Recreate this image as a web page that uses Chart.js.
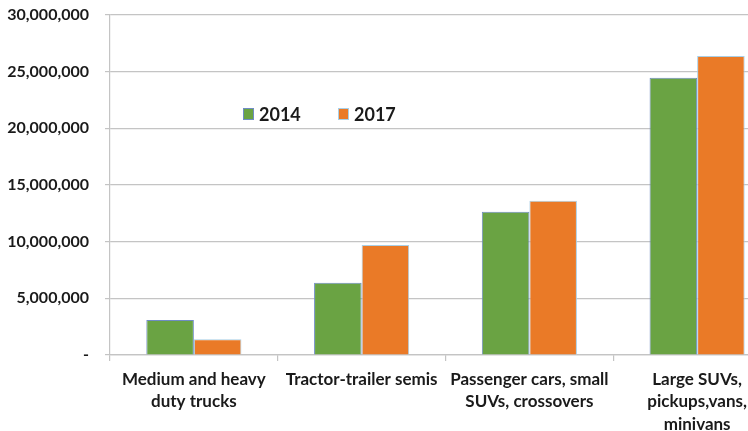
<!DOCTYPE html>
<html>
<head>
<meta charset="utf-8">
<script src="https://cdn.jsdelivr.net/npm/chart.js@4/dist/chart.umd.min.js"></script>
<style>
  html, body { margin: 0; padding: 0; background: #ffffff; overflow: hidden; }
  #wrap { width: 800px; height: 431px; position: relative; }
</style>
</head>
<body>
<div id="wrap"><canvas id="c"></canvas></div>
<script>
// Vehicle stock by class, 2014 vs 2017
const categories = [
  ['Medium and heavy', 'duty trucks'],
  ['Tractor-trailer semis'],
  ['Passenger cars, small', 'SUVs, crossovers'],
  ['Large SUVs,', 'pickups,vans,', 'minivans']
];
const seriesNames = ['2014', '2017'];
const values2014 = [3090000, 6380000, 12650000, 24470000];
const values2017 = [1390000, 9710000, 13600000, 26380000];
const yTicks = [0, 5000000, 10000000, 15000000, 20000000, 25000000, 30000000];

const GREEN = '#6aa343';
const ORANGE = '#ea7a27';
const GRID = '#c4c4c4';
const FONT = 'Lato, "Open Sans", sans-serif';

// Legend drawn inside the plot area, near the upper left
const innerLegend = {
  id: 'innerLegend',
  afterDraw(chart) {
    const ctx = chart.ctx;
    const a = chart.chartArea;
    const y = 114;
    let x = a.left + 133;
    ctx.save();
    ctx.font = 'bold 18px ' + FONT;
    ctx.textBaseline = 'middle';
    chart.data.datasets.forEach(ds => {
      ctx.fillStyle = ds.backgroundColor;
      ctx.fillRect(x, y - 6, 11, 12);
      ctx.strokeStyle = ds.borderColor;
      ctx.lineWidth = 1;
      ctx.strokeRect(x + 0.5, y - 5.5, 10, 11);
      ctx.fillStyle = '#1a1a1a';
      ctx.fillText(ds.label, x + 16, y + 1);
      x += 95;
    });
    ctx.restore();
  }
};

new Chart(document.getElementById('c'), {
  type: 'bar',
  data: {
    labels: categories,
    datasets: [
      { label: seriesNames[0], data: values2014, backgroundColor: GREEN, borderColor: '#6f8cc4', borderWidth: 1 },
      { label: seriesNames[1], data: values2017, backgroundColor: ORANGE, borderColor: '#a9cfe6', borderWidth: 1 }
    ]
  },
  options: {
    responsive: true,
    maintainAspectRatio: false,
    animation: false,
    layout: { padding: { top: 15, right: 19, left: 0, bottom: 0 } },
    plugins: {
      legend: { display: false },
      tooltip: { enabled: false }
    },
    datasets: {
      bar: { categoryPercentage: 0.567, barPercentage: 1.0 }
    },
    scales: {
      x: {
        grid: { drawOnChartArea: false, drawTicks: true, tickLength: 6, color: GRID, offset: true, lineWidth: 1.2 },
        border: { display: true, color: GRID, width: 1.2 },
        ticks: {
          color: '#1a1a1a',
          font: { family: FONT, weight: 'bold', size: 17, lineHeight: 1.32 },
          padding: 7,
          maxRotation: 0,
          autoSkip: false
        },
        afterFit(scale) { scale.height = 76; scale.paddingLeft = 0; scale.paddingRight = 0; }
      },
      y: {
        min: 0,
        max: 30000000,
        afterBuildTicks(scale) { scale.ticks = yTicks.map(v => ({ value: v })); },
        grid: { color: GRID, lineWidth: 1.2, tickLength: 5 },
        border: { display: true, color: GRID, width: 1.2 },
        ticks: {
          color: '#1a1a1a',
          font: { family: FONT, weight: 'bold', size: 16 },
          padding: 16,
          callback(v) { return v === 0 ? '-' : v.toLocaleString('en-US'); }
        },
        afterFit(scale) { scale.width = 110; scale.paddingTop = 0; scale.paddingBottom = 0; }
      }
    }
  },
  plugins: [innerLegend]
});
</script>
</body>
</html>
